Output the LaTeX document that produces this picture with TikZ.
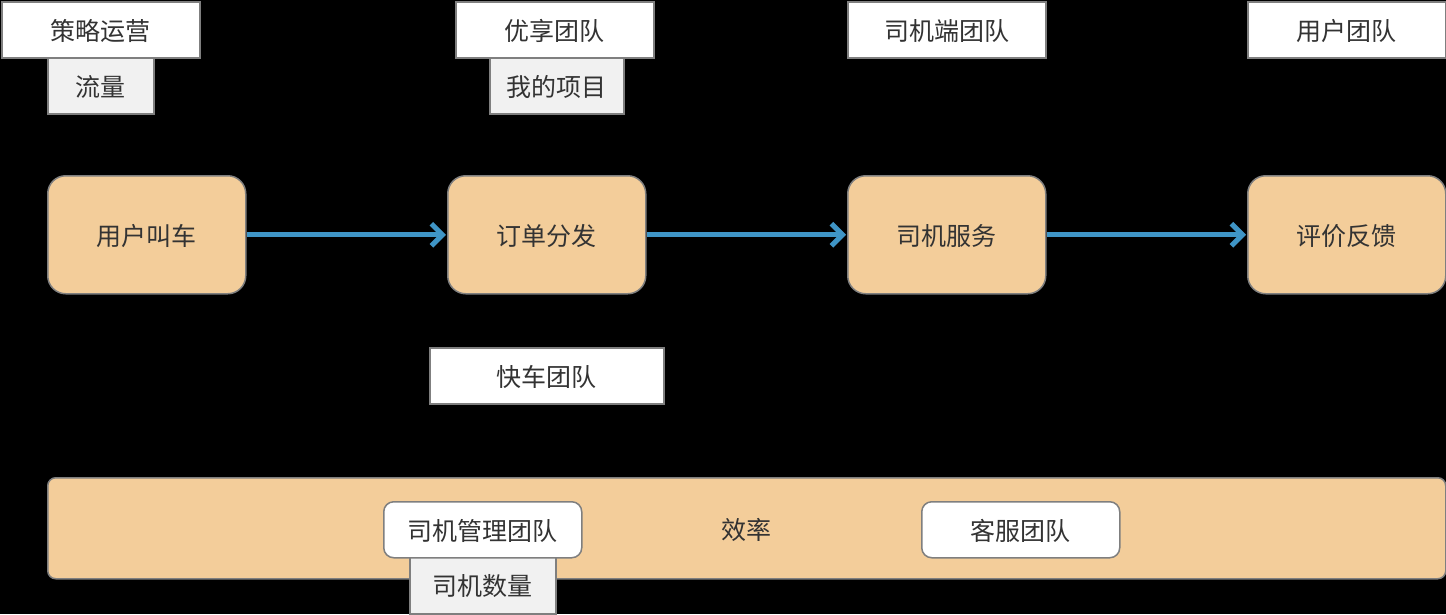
\documentclass[tikz,border=0pt]{standalone}
\usepackage{fontspec}
\setmainfont{Noto Sans CJK SC}
\usetikzlibrary{arrows.meta}
\definecolor{boxgray}{HTML}{7F7F7F}
\definecolor{orangefill}{HTML}{F3CD9A}
\definecolor{lightfill}{HTML}{F1F1F1}
\definecolor{arrowblue}{HTML}{3F95C6}
\definecolor{txt}{HTML}{333333}
\tikzset{
  lbl/.style={draw=boxgray, line width=1.5pt, fill=white, text=txt, font=\fontsize{25}{29}\selectfont, inner sep=0pt, anchor=north west, text depth=0pt},
  tag/.style={lbl, fill=lightfill},
  stage/.style={lbl, fill=orangefill, rounded corners=18pt},
  inbar/.style={lbl, rounded corners=10pt},
  flow/.style={draw=arrowblue, line width=5pt, -{Straight Barb[length=11pt,width=22pt,line width=5pt]}, shorten >=1pt}
}
\begin{document}
\begin{tikzpicture}[x=1pt,y=-1pt]
\useasboundingbox (0,0) rectangle (1446,614);
\fill[black] (0,0) rectangle (1446,614);
% top labels
\node[lbl, minimum width=198pt, minimum height=56pt] (celue) at (1,1) {策略运营};
\node[tag, minimum width=106pt, minimum height=56pt] (liuliang) at (47,57) {流量};
\node[lbl, minimum width=198pt, minimum height=56pt] (youxiang) at (455,1) {优享团队};
\node[tag, minimum width=134pt, minimum height=56pt] (xiangmu) at (489,57) {我的项目};
\node[lbl, minimum width=198pt, minimum height=56pt] (sijiduan) at (847,1) {司机端团队};
\node[lbl, minimum width=198pt, minimum height=56pt] (yonghutd) at (1247,1) {用户团队};
% stages
\node[stage, minimum width=198pt, minimum height=118pt] (jiaoche) at (47,175) {用户叫车};
\node[stage, minimum width=198pt, minimum height=118pt] (fenfa) at (447,175) {订单分发};
\node[stage, minimum width=198pt, minimum height=118pt] (fuwu) at (847,175) {司机服务};
\node[stage, minimum width=198pt, minimum height=118pt] (pingjia) at (1247,175) {评价反馈};
\draw[flow] (jiaoche.east) -- (fenfa.west);
\draw[flow] (fenfa.east) -- (fuwu.west);
\draw[flow] (fuwu.east) -- (pingjia.west);
% kuaiche
\node[lbl, minimum width=234pt, minimum height=56pt] (kuaiche) at (429,347) {快车团队};
% efficiency bar
\node[lbl, fill=orangefill, rounded corners=8pt, minimum width=1398pt, minimum height=101pt] (xiaolv) at (47,477) {};
\node[text=txt, font=\fontsize{25}{29}\selectfont, inner sep=0pt, text depth=0pt] (xiaolvtxt) at (746,529) {效率};
\node[tag, minimum width=146pt, minimum height=57pt] (shuliang) at (409,556) {司机数量};
\node[inbar, minimum width=198pt, minimum height=56pt] (guanli) at (383,501) {司机管理团队};
\node[inbar, minimum width=198pt, minimum height=56pt] (kefu) at (921,501) {客服团队};
\end{tikzpicture}
\end{document}
